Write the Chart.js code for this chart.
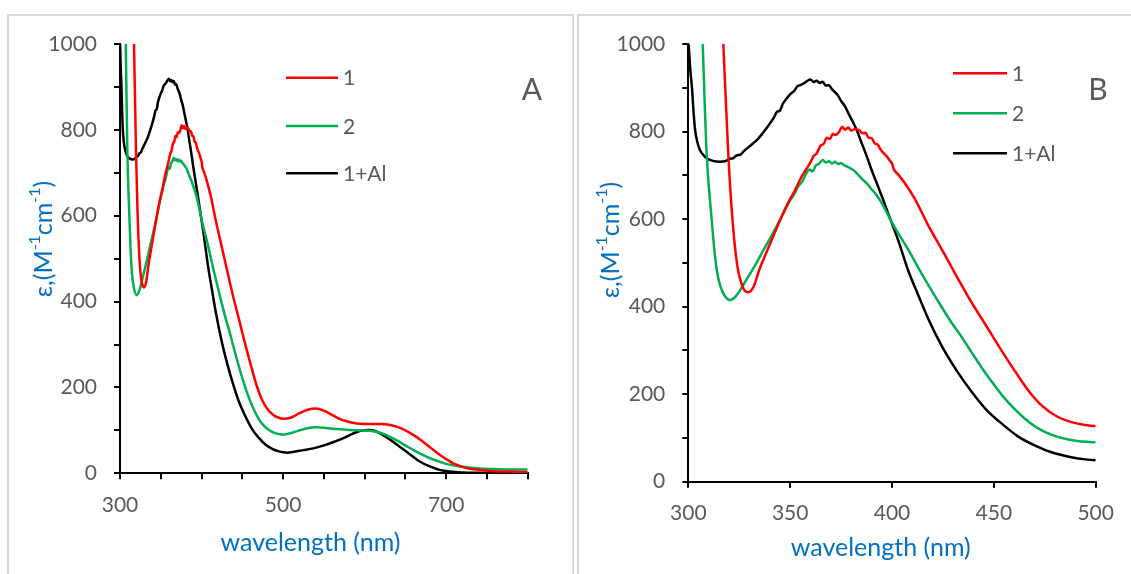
<!DOCTYPE html>
<html>
<head>
<meta charset="utf-8">
<script src="https://cdn.jsdelivr.net/npm/chart.js@4.4.1/dist/chart.umd.min.js"></script>
<style>
  html, body { margin: 0; padding: 0; background: #fff; width: 1131px; height: 574px; overflow: hidden; }
  .frame { position: absolute; border: 2px solid #d9d9d9; box-sizing: border-box; }
  #frameA { left: 7px; top: 14px; width: 567px; height: 620px; }
  #frameB { left: 577px; top: 14px; width: 620px; height: 620px; }
  canvas { position: absolute; top: 0; }
  #chartA { left: 0; }
  #chartB { left: 575px; }
</style>
</head>
<body>
<div class="frame" id="frameA"></div>
<div class="frame" id="frameB"></div>
<canvas id="chartA" width="575" height="574"></canvas>
<canvas id="chartB" width="556" height="574"></canvas>
<script>
// absorption spectra, wavelength (nm) vs epsilon
var seriesNames = ['1', '2', '1+Al'];
var seriesColors = ['#FF0000', '#00B050', '#000000'];

var nm1 = [314, 317, 319.5, 321.5, 324, 327, 329.5, 332, 335, 338, 341, 344, 347, 350, 352, 354, 356, 358, 360, 361.5,
  363, 365, 366.5, 368, 369.5, 371, 372, 374, 375.5, 377, 378.5, 380, 382, 384, 385.5, 387, 388.5, 390, 391.5, 393,
  394.5, 396, 397.5, 399, 400, 401, 403, 406, 411, 418, 425, 432, 439, 446, 453, 460, 467, 474, 481, 488, 494, 500,
  510, 520, 530, 540, 550, 560, 570, 580, 590, 600, 610, 620, 630, 640, 650, 660, 670, 680, 690, 700, 710, 720, 730,
  740, 750, 760, 780, 800];
var eps1 = [1330, 1020, 760, 610, 495, 442, 433, 445, 486, 520, 553, 586, 618, 646, 662, 682, 700, 715, 730, 744,
  750, 768, 772, 786, 783, 795, 792, 799, 811, 804, 809, 802, 806, 803, 796, 797, 786, 785, 773, 770,
  758, 750, 743, 733, 727, 713, 702, 684, 648, 584, 526, 467, 410, 358, 305, 255, 208, 172, 149, 136, 130, 127,
  130, 140, 148, 151, 146, 136, 126, 120, 116, 115, 115, 115, 113, 108, 100, 89, 76, 61, 46, 33, 22, 15, 10,
  8, 6, 5, 4, 3];

var nm2 = [304.5, 307, 309, 311.5, 313, 314.7, 317, 320.5, 323, 325.5, 329, 333.5, 337, 341, 344, 347, 350, 352, 354,
  356, 358, 359.5, 361, 362.5, 364, 366, 367.5, 369, 370.5, 372, 373.5, 375, 376.5, 378, 379.5, 381, 383, 385, 387.5,
  390, 392, 394, 396, 398, 400, 403, 408, 413, 418, 424, 429, 434, 439, 445, 450, 455, 460, 465, 470, 475, 481, 486,
  491, 496, 500, 506, 512, 520, 530, 540, 550, 560, 574, 590, 606, 620, 630, 640, 650, 660, 670, 680, 690, 700, 710,
  720, 740, 760, 780, 800];
var eps2 = [1330, 1010, 750, 598, 520, 465, 432, 415, 422, 438, 465, 500, 530, 563, 589, 616, 643, 657, 675,
  686, 705, 713, 709, 722, 726, 735, 729, 732, 727, 731, 726, 728, 723, 720, 716, 712, 703, 693, 682,
  668, 657, 644, 628, 610, 592, 568, 530, 488, 448, 402, 365, 332, 296, 254, 222, 192, 167, 145, 127, 114, 103, 97,
  93, 91, 90, 92, 95, 100, 105, 107, 106, 104, 102, 100, 99, 94, 86, 76, 65, 54, 44, 35, 28, 22, 18,
  15, 11, 10, 9, 9];

var nm3 = [300, 301, 301.8, 302.5, 303.3, 304.5, 305.7, 307.5, 309, 312, 315.5, 318, 320.5, 322, 324, 325.5, 327, 330,
  333.5, 336, 338, 340, 342, 343.5, 345, 346.5, 348, 350, 352, 353.5, 355, 357, 358.5, 360, 361.5, 363, 364.5, 366,
  367.5, 369, 370.5, 372, 373.5, 375, 377, 379, 381, 383, 385, 387.5, 390, 392, 394, 396, 398, 400, 402, 404, 408,
  413, 418, 425, 432, 439, 446, 453, 462, 470, 479, 488, 495, 500, 505, 515, 525, 537, 550, 562, 574, 585, 595, 605,
  612, 619, 630, 643, 655, 668, 680, 692, 705, 720, 740, 760, 800];
var eps3 = [1010, 940, 900, 850, 805, 775, 758, 746, 739, 733, 731, 732, 738, 739, 746, 747, 754, 766,
  780, 793, 805, 818, 832, 845, 848, 864, 874, 885, 893, 903, 906, 911, 916, 919, 913, 916, 911, 914,
  905, 906, 897, 890, 882, 870, 857, 838, 820, 800, 775, 745, 712, 688, 664, 640, 614, 590, 565, 538, 482,
  425, 370, 305, 252, 206, 166, 136, 103, 83, 66, 56, 51, 49, 48, 51, 54, 58, 65, 73, 82, 92, 99, 101,
  99, 93, 80, 62, 45, 27, 16, 8, 4, 2, 1, 0, 0];

var xLabelsA = [300, 500, 700];
var xLabelsB = [300, 350, 400, 450, 500];
var yLabels = [0, 200, 400, 600, 800, 1000];

function toPoints(xs, ys) {
  return xs.map(function (x, i) { return { x: x, y: ys[i] }; });
}

function buildDatasets() {
  var xs = [nm1, nm2, nm3], ys = [eps1, eps2, eps3];
  return seriesNames.map(function (name, i) {
    return {
      label: name,
      data: toPoints(xs[i], ys[i]),
      borderColor: seriesColors[i],
      backgroundColor: seriesColors[i]
    };
  });
}

function drawEpsTitle(ctx, cx, cy) {
  var parts = [['ε,(M', '25px Lato', 0], ['-1', '16px Lato', -9], ['cm', '25px Lato', 0],
               ['-1', '16px Lato', -9], [')', '25px Lato', 0]];
  ctx.save();
  ctx.translate(cx, cy);
  ctx.rotate(-Math.PI / 2);
  ctx.fillStyle = '#0070C0';
  ctx.textBaseline = 'middle';
  var w = 0;
  parts.forEach(function (p) { ctx.font = p[1]; w += ctx.measureText(p[0]).width; });
  var x = -w / 2;
  parts.forEach(function (p) {
    ctx.font = p[1];
    ctx.fillText(p[0], x, p[2]);
    x += ctx.measureText(p[0]).width;
  });
  ctx.restore();
}

// legend, panel letter and axis titles drawn on top of the chart
var panelDecor = {
  id: 'panelDecor',
  afterDraw: function (chart) {
    var d = chart.options.plugins.panelDecor;
    var ctx = chart.ctx;
    ctx.save();
    ctx.lineWidth = 2.5;
    ctx.font = '21px Lato';
    ctx.textBaseline = 'middle';
    ctx.textAlign = 'left';
    seriesNames.forEach(function (name, i) {
      ctx.strokeStyle = seriesColors[i];
      ctx.beginPath();
      ctx.moveTo(d.legendX0, d.legendY[i]);
      ctx.lineTo(d.legendX1, d.legendY[i]);
      ctx.stroke();
      ctx.fillStyle = '#595959';
      ctx.fillText(name, d.legendX1 + 5, d.legendY[i] + 1);
    });
    ctx.font = '30px Lato';
    ctx.textAlign = 'center';
    ctx.fillText(d.letter, d.letterX, d.letterY);
    ctx.font = '25px Lato';
    ctx.fillStyle = '#0070C0';
    ctx.fillText('wavelength (nm)', d.xTitleX, d.xTitleY);
    ctx.restore();
    drawEpsTitle(ctx, d.titleX, d.titleY);
  }
};

function makeChart(id, o) {
  return new Chart(document.getElementById(id), {
    type: 'line',
    data: { datasets: buildDatasets() },
    options: {
      responsive: false,
      animation: false,
      layout: { padding: { top: 44, right: o.padRight, left: 0, bottom: 0 } },
      elements: {
        point: { radius: 0 },
        line: { borderWidth: 2.5, cubicInterpolationMode: 'monotone' }
      },
      plugins: {
        legend: { display: false },
        tooltip: { enabled: false },
        panelDecor: o.decor
      },
      scales: {
        x: {
          type: 'linear',
          min: o.xMin,
          max: o.xMax,
          afterFit: function (s) { s.height = o.xHeight; },
          ticks: {
            stepSize: 50,
            autoSkip: false,
            maxRotation: 0,
            padding: 13,
            color: '#595959',
            font: { family: 'Lato', size: 21 },
            callback: function (v) { return o.xLabels.indexOf(v) >= 0 ? String(v) : ''; }
          },
          grid: { drawOnChartArea: false, drawTicks: true, tickLength: 6, color: '#000', lineWidth: 2 },
          border: { color: '#000', width: 2 }
        },
        y: {
          min: 0,
          max: 1000,
          afterFit: function (s) { s.width = o.yWidth; },
          ticks: {
            stepSize: 100,
            autoSkip: false,
            padding: 17,
            color: '#595959',
            font: { family: 'Lato', size: 21 },
            callback: function (v) { return yLabels.indexOf(v) >= 0 ? String(v) : ''; }
          },
          grid: { drawOnChartArea: false, drawTicks: true, tickLength: 6, color: '#000', lineWidth: 2 },
          border: { color: '#000', width: 2 }
        }
      }
    },
    plugins: [panelDecor]
  });
}

var chartA = makeChart('chartA', {
  xMin: 300, xMax: 800, xLabels: xLabelsA,
  padRight: 47.3, xHeight: 100.7, yWidth: 120,
  decor: { legendX0: 286, legendX1: 338, legendY: [77.7, 126, 173.3],
           letter: 'A', letterX: 532, letterY: 90, titleX: 44, titleY: 239,
           xTitleX: 310.5, xTitleY: 543 }
});

var chartB = makeChart('chartB', {
  xMin: 300, xMax: 500, xLabels: xLabelsB,
  padRight: 35.3, xHeight: 92.3, yWidth: 113.3,
  decor: { legendX0: 378, legendX1: 432, legendY: [73.3, 113.3, 153.3],
           letter: 'B', letterX: 523, letterY: 90, titleX: 35.5, titleY: 240,
           xTitleX: 305.8, xTitleY: 548 }
});
</script>
</body>
</html>
